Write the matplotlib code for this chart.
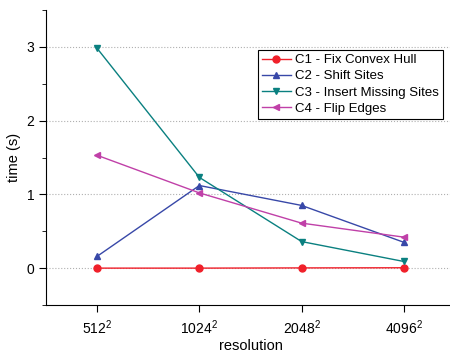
import matplotlib.pyplot as plt
from matplotlib.ticker import MultipleLocator

plt.rcParams['font.family'] = ['Liberation Sans', 'DejaVu Sans']
plt.rcParams['mathtext.fontset'] = 'custom'
plt.rcParams['mathtext.rm'] = 'Liberation Sans'
plt.rcParams['mathtext.it'] = 'Liberation Sans'

resolutions = ['$\\mathregular{512^2}$', '$\\mathregular{1024^2}$',
               '$\\mathregular{2048^2}$', '$\\mathregular{4096^2}$']
c1_fix_hull = [0.0, 0.0, 0.003, 0.005]
c2_shift = [0.16, 1.12, 0.85, 0.35]
c3_insert = [2.98, 1.23, 0.36, 0.09]
c4_flip = [1.53, 1.02, 0.61, 0.42]

series = [
    ('C1 - Fix Convex Hull', c1_fix_hull, '#f0202a', 'o'),
    ('C2 - Shift Sites', c2_shift, '#3848a8', '^'),
    ('C3 - Insert Missing Sites', c3_insert, '#0a8080', 'v'),
    ('C4 - Flip Edges', c4_flip, '#c040a8', '<'),
]

fig = plt.figure(figsize=(4.5, 3.52), dpi=100, facecolor='w')
ax = fig.add_axes([46 / 450, 47 / 352, 409 / 450, 295 / 352])

x = list(range(len(resolutions)))
for name, vals, col, mk in series:
    ax.plot(x, vals, color=col, marker=mk, markersize=5, linewidth=1.0, label=name)

ax.set_xlim(-0.5, 3.5)
ax.set_ylim(-0.5, 3.5)
ax.set_xticks(x)
ax.set_xticklabels(resolutions)
ax.yaxis.set_major_locator(MultipleLocator(1))
ax.yaxis.set_minor_locator(MultipleLocator(0.5))
ax.tick_params(axis='both', which='major', direction='out', length=5, labelsize=10)
ax.tick_params(axis='x', pad=5)
ax.tick_params(axis='y', which='minor', direction='out', length=3)
ax.grid(axis='y', which='major', color='#b0b0b0', linestyle=':', linewidth=0.8)
ax.spines['top'].set_visible(False)
ax.spines['right'].set_visible(False)

ax.set_xlabel('resolution', fontsize=10.5, labelpad=1)
ax.set_ylabel('time (s)', fontsize=10.5, labelpad=4)

leg = ax.legend(loc='upper left', bbox_to_anchor=(258 / 450, 1 - 50 / 352),
                bbox_transform=fig.transFigure, borderaxespad=0, fancybox=False,
                shadow=False, edgecolor='black', fontsize=9.5, handlelength=2.2,
                handletextpad=0.3, labelspacing=0.3, borderpad=0.3, framealpha=1)
leg.get_frame().set_linewidth(0.8)

fig.savefig('out.png', dpi=100)
